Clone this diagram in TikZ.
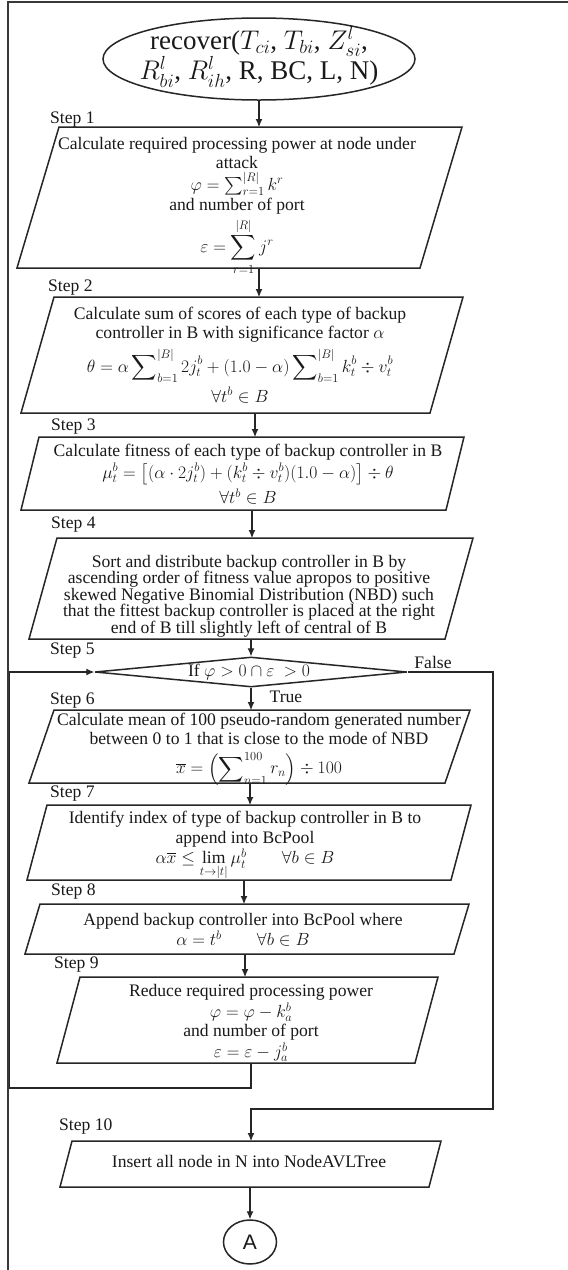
\RequirePackage{fix-cm}
\documentclass[tikz,border=0pt]{standalone}
\usepackage{amsmath,amssymb}
\usepackage{fontspec}
\setmainfont{Liberation Serif}
\newfontfamily\connectorfont{Liberation Sans}
\usetikzlibrary{shapes.geometric,arrows.meta,calc}

\tikzset{
  outline/.style={draw=black!85, line width=1.5pt},
  flow/.style={draw=black!85, line width=1.1pt, -{Latex[length=8pt,width=7pt]}},
  body/.style={inner sep=0pt, align=center, text=black!90, font=\fontsize{17.6}{19}\selectfont},
  stepname/.style={anchor=west, inner sep=0pt, text=black!90, font=\fontsize{17.6}{19}\selectfont},
  frame/.style={inner sep=0pt, outer sep=0pt},
}
% parallelogram drawn on the rectangle of a frame node, top edge shifted right by #2
\newcommand\slantbox[2]{\draw[outline] ($(#1.north west)+(#2,0)$) -- (#1.north east) -- ($(#1.south east)-(#2,0)$) -- (#1.south west) -- cycle;}

\begin{document}
\begin{tikzpicture}[x=1pt,y=-1pt]
\useasboundingbox (0,0) rectangle (568,1270);
\fill[white] (0,0) rectangle (568,1270);
\draw[draw=black!78, line width=2.4pt] (8,1270) -- (8,2) -- (568,2);

% start terminal
\node[ellipse, outline, minimum width=312pt, minimum height=82pt, inner sep=0pt] (start) at (259,59) {};
\node[body, font=\fontsize{27}{30}\selectfont] (starttext) at (259,57) {recover($T_{ci}$, $T_{bi}$, $Z^{l}_{si}$,\\$R^{l}_{bi}$, $R^{l}_{ih}$, R, BC, L, N)};

% step captions
\node[stepname] (s1) at (50,120) {Step 1};
\node[stepname] (s2) at (48,288) {Step 2};
\node[stepname] (s3) at (51,427) {Step 3};
\node[stepname] (s4) at (51,525) {Step 4};
\node[stepname] (s5) at (50,651) {Step 5};
\node[stepname] (s6) at (50,701) {Step 6};
\node[stepname] (s7) at (50,794) {Step 7};
\node[stepname] (s8) at (51,892) {Step 8};
\node[stepname] (s9) at (54,965) {Step 9};
\node[stepname] (s10) at (59,1127) {Step 10};

% step 1
\node[frame, minimum width=445pt, minimum height=141pt] (b1) at (239.5,197.5) {};
\slantbox{b1}{42}
\node[body] (t1) at (237,206) {Calculate required processing power at node under\\ attack\\[3pt] $\varphi=\sum_{r=1}^{|R|}k^{r}$\\[1pt] and number of port\\[3pt] $\displaystyle\varepsilon=\sum_{r=1}^{|R|}j^{r}$};

% step 2
\node[frame, minimum width=442pt, minimum height=116pt] (b2) at (242,355) {};
\slantbox{b2}{33}
\node[body] (t2) at (240,355) {Calculate sum of scores of each type of backup\\ controller in B with significance factor $\alpha$\\[6pt] $\displaystyle\theta=\alpha\sum\nolimits_{b=1}^{|B|}2j_t^b+(1.0-\alpha)\sum\nolimits_{b=1}^{|B|}k_t^b\div v_t^b$\\[4pt] $\forall t^b\in B$};

% step 3
\node[frame, minimum width=443pt, minimum height=73pt] (b3) at (242.5,473.5) {};
\slantbox{b3}{18}
\node[body] (t3) at (248,474) {Calculate fitness of each type of backup controller in B\\[3pt] $\mu_t^b=\bigl[(\alpha\cdot 2j_t^b)+(k_t^b\div v_t^b)(1.0-\alpha)\bigr]\div\theta$\\[3pt] $\forall t^b\in B$};

% step 4
\node[frame, minimum width=444pt, minimum height=101pt] (b4) at (251,588.5) {};
\slantbox{b4}{28}
\node[body, font=\fontsize{17.6}{16.5}\selectfont] (t4) at (249,596) {Sort and distribute backup controller in B by\\ ascending order of fitness value apropos to positive\\ skewed Negative Binomial Distribution (NBD) such\\ that the fittest backup controller is placed at the right\\ end of B till slightly left of central of B};

% step 5 decision
\node[diamond, outline, aspect=10.4, minimum width=312pt, minimum height=30pt, inner sep=0pt] (dia) at (251,672) {};
\node[body] (dtext) at (249,672) {If $\varphi>0\cap\varepsilon\ >0$};
\node[body] (no) at (433,662) {False};
\node[body] (yes) at (286,697) {True};

% step 6
\node[frame, minimum width=441pt, minimum height=73pt] (b6) at (249.5,746.5) {};
\slantbox{b6}{25}
\node[body] (t6) at (259,749) {Calculate mean of 100 pseudo-random generated number\\ between 0 to 1 that is close to the mode of NBD\\[7pt] $\displaystyle\overline{x}=\left(\sum\nolimits_{n=1}^{100}r_n\right)\div 100$};

% step 7
\node[frame, minimum width=444pt, minimum height=75pt] (b7) at (249,842.5) {};
\slantbox{b7}{20}
\node[body] (t7) at (245,846) {Identify index of type of backup controller in B to\\[1pt] append into BcPool\\[1pt] $\alpha\overline{x}\le\lim\limits_{t\to|t|}\mu_t^b\qquad\forall b\in B$};

% step 8
\node[frame, minimum width=444pt, minimum height=50pt] (b8) at (247,929) {};
\slantbox{b8}{15}
\node[body] (t8) at (243,930) {Append backup controller into BcPool where\\[1pt] $\alpha=t^b\qquad\forall b\in B$};

% step 9
\node[frame, minimum width=381pt, minimum height=86pt] (b9) at (247.5,1020) {};
\slantbox{b9}{23}
\node[body] (t9) at (251,1023) {Reduce required processing power\\[2pt] $\varphi=\varphi-k_a^b$\\ and number of port\\[2pt] $\varepsilon=\varepsilon-j_a^b$};

% step 10
\node[frame, minimum width=381pt, minimum height=46pt] (b10) at (250.5,1164) {};
\slantbox{b10}{12}
\node[body] (t10) at (249,1162) {Insert all node in N into NodeAVLTree};

% off-page connector
\node[ellipse, outline, minimum width=53pt, minimum height=44pt, inner sep=0pt, font=\connectorfont\fontsize{21}{21}\selectfont, text=black!90] (A) at (250,1242) {A};

% vertical guide lines of the connectors
\coordinate (v1) at (259,0);
\coordinate (v2) at (255,0);
\coordinate (v3) at (252,0);
\coordinate (v6) at (250,0);
\coordinate (v7) at (244,0);
\coordinate (v8) at (245,0);
\coordinate (loopL) at (9.8,1088);
\coordinate (falseR) at (493,1109);

% main flow
\draw[flow] (start.south) -- (start.south |- b1.north);
\draw[flow] (b1.south -| v1) -- (b2.north -| v1);
\draw[flow] (b2.south -| v2) -- (b3.north -| v2);
\draw[flow] (b3.south -| v3) -- (b4.north -| v3);
\draw[flow] (b4.south -| dia) -- (dia.north);
\draw[flow] (dia.south) -- (b6.north -| dia);
\draw[flow] (b6.south -| v6) -- (b7.north -| v6);
\draw[flow] (b7.south -| v7) -- (b8.north -| v7);
\draw[flow] (b8.south -| v8) -- (b9.north -| v8);

% loop back to the decision
\draw[flow] (b9.south -| dia) -- (dia |- loopL) -- (loopL) |- (dia.west);

% exit of the loop
\draw[flow] (dia.east) -| (falseR) -| (b10.north -| dia);

\draw[flow] (b10.south -| A) -- (A.north);
\end{tikzpicture}
\end{document}
